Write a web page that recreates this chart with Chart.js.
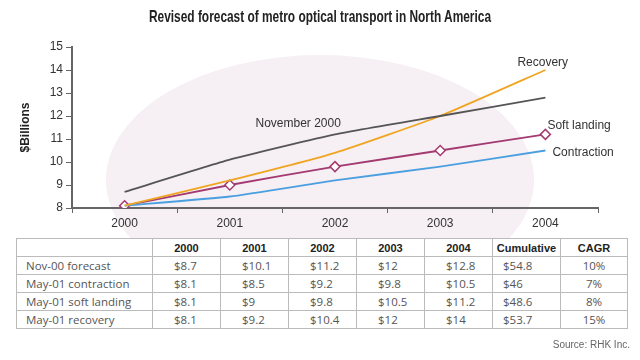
<!DOCTYPE html>
<html>
<head>
<meta charset="utf-8">
<script src="https://cdn.jsdelivr.net/npm/chart.js@4.4.0/dist/chart.umd.min.js"></script>
<style>
  html, body { margin: 0; padding: 0; background: #fff; }
  #wrap { position: relative; width: 640px; height: 360px; overflow: hidden; }
  #lineChart { position: absolute; left: 0; top: 0; }
  #title {
    position: absolute; left: 0; top: 7px; width: 640px; text-align: center;
    font: bold 17px "Liberation Sans", Arial, sans-serif; color: #222;
    transform: scaleX(0.70); transform-origin: 320px 0;
  }
  #dataTable {
    position: absolute; left: 16px; top: 238px; width: 611px;
    border-collapse: collapse; table-layout: fixed;
    font: 11.5px "Open Sans", "Noto Sans", sans-serif; color: #555; background: #fff;
  }
  #dataTable td, #dataTable th {
    border: 1px solid #bbb; height: 17px; padding: 0; line-height: 16px;
    white-space: nowrap; overflow: hidden;
  }
  #dataTable th { font-weight: bold; color: #222; text-align: center; font-family: "Liberation Sans", sans-serif; font-size: 11px; }
  #dataTable td.lab { padding-left: 9px; }
  #dataTable td.val { padding-left: 21px; }
  #dataTable td.cum { padding-left: 10px; }
  #dataTable td.cagr { text-align: center; }
  #source {
    position: absolute; left: 540px; top: 339px; width: 90px; text-align: right;
    font: 10px "Liberation Sans", sans-serif; color: #666;
  }
</style>
</head>
<body>
<div id="wrap">
  <canvas id="lineChart" width="640" height="360"></canvas>
  <div id="title">Revised forecast of metro optical transport in North America</div>
  <table id="dataTable"></table>
  <div id="source">Source: RHK Inc.</div>
</div>
<script>
var years = ["2000", "2001", "2002", "2003", "2004"];
var yTicks = [8, 9, 10, 11, 12, 13, 14, 15];

var nov00 = [8.7, 10.1, 11.2, 12, 12.8];
var contraction = [8.1, 8.5, 9.2, 9.8, 10.5];
var softLanding = [8.1, 9, 9.8, 10.5, 11.2];
var recovery = [8.1, 9.2, 10.4, 12, 14];

var rowNames = ["Nov-00 forecast", "May-01 contraction", "May-01 soft landing", "May-01 recovery"];
var cumulative = [54.8, 46, 48.6, 53.7];
var cagr = ["10%", "7%", "8%", "15%"];

// table under the chart
var rows = [nov00, contraction, softLanding, recovery];
var html = '<colgroup><col style="width:136px">';
for (var i = 0; i < years.length; i++) html += '<col style="width:68px">';
html += '<col style="width:68px"><col style="width:67px"></colgroup>';
html += '<tr><th></th>';
years.forEach(function(y){ html += '<th>' + y + '</th>'; });
html += '<th>Cumulative</th><th>CAGR</th></tr>';
rows.forEach(function(r, i){
  html += '<tr><td class="lab">' + rowNames[i] + '</td>';
  r.forEach(function(v){ html += '<td class="val">$' + v + '</td>'; });
  html += '<td class="cum">$' + cumulative[i] + '</td><td class="cagr">' + cagr[i] + '</td></tr>';
});
document.getElementById('dataTable').innerHTML = html;

// pale pink oval behind the lines
var ovalPlugin = {
  id: 'oval',
  beforeDraw: function(chart) {
    var c = chart.ctx;
    c.save();
    c.fillStyle = '#f6eff3';
    c.beginPath();
    c.ellipse(320, 180, 214, 125, 0, 0, Math.PI * 2);
    c.fill();
    c.restore();
  }
};

// series names written next to the lines
var lineLabels = {
  id: 'lineLabels',
  afterDatasetsDraw: function(chart) {
    var c = chart.ctx, xs = chart.scales.x, ys = chart.scales.y;
    var x4 = xs.getPixelForValue(4);
    c.save();
    c.font = '12px "Liberation Sans", sans-serif';
    c.fillStyle = '#333';
    c.textBaseline = 'middle';
    c.textAlign = 'center';
    c.fillText('November 2000', xs.getPixelForValue(1.65), ys.getPixelForValue(11.65));
    c.textAlign = 'left';
    c.fillText('Recovery', x4 - 28, ys.getPixelForValue(14) - 7);
    c.fillText('Soft landing', x4 + 2, ys.getPixelForValue(11.2) - 9);
    c.fillText('Contraction', x4 + 7, ys.getPixelForValue(10.5) + 2);
    c.restore();
  }
};

var ctx = document.getElementById('lineChart');
var myChart = new Chart(ctx, {
  type: 'line',
  data: {
    labels: years,
    datasets: [
      { label: 'November 2000', data: nov00, borderColor: '#555555', borderWidth: 1.8, pointRadius: 0, tension: 0.15 },
      { label: 'Recovery', data: recovery, borderColor: '#f0a522', borderWidth: 1.8, pointRadius: 0, tension: 0.15 },
      { label: 'Contraction', data: contraction, borderColor: '#4a9fe0', borderWidth: 1.8, pointRadius: 0, tension: 0.15 },
      { label: 'Soft landing', data: softLanding, borderColor: '#a33a72', borderWidth: 1.8, tension: 0.1,
        pointStyle: 'rectRot', pointRadius: 5, pointBackgroundColor: '#fff', pointBorderColor: '#a33a72', pointBorderWidth: 1.5 }
    ]
  },
  options: {
    responsive: false,
    animation: false,
    layout: { padding: { left: 0, right: 42, top: 47, bottom: 128 } },
    plugins: { legend: { display: false }, tooltip: { enabled: false } },
    scales: {
      x: {
        offset: true,
        afterFit: function(s) { s.height = 24; },
        grid: { offset: true, drawOnChartArea: false, drawTicks: true, tickLength: 5, color: '#666' },
        border: { display: true, color: '#666', width: 2 },
        ticks: { color: '#333', padding: 3, font: { size: 12, family: '"Liberation Sans", sans-serif' } }
      },
      y: {
        min: 8, max: 15,
        afterFit: function(s) { s.width = 72; },
        afterBuildTicks: function(s) { s.ticks = yTicks.map(function(v){ return { value: v }; }); },
        grid: { drawOnChartArea: false, drawTicks: true, tickLength: 6, color: '#666' },
        border: { display: true, color: '#666', width: 2 },
        ticks: { color: '#333', padding: 3, font: { size: 12, family: '"Liberation Sans", sans-serif' } },
        title: { display: true, text: '$Billions', color: '#222', padding: { top: 18, bottom: 0 },
                 font: { size: 12, weight: 'bold', family: '"Liberation Sans", sans-serif' } }
      }
    }
  },
  plugins: [ovalPlugin, lineLabels]
});
</script>
</body>
</html>
